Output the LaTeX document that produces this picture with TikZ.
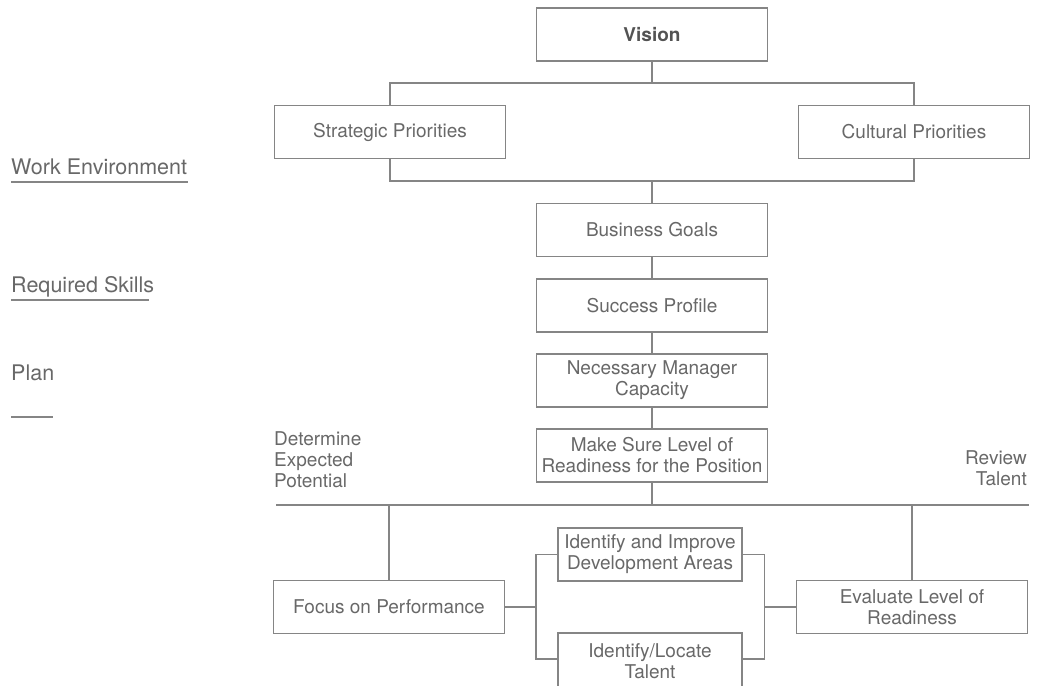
\documentclass[tikz,border=0pt]{standalone}
\usepackage{fontspec}
\setmainfont{TeX Gyre Heros}
\usetikzlibrary{calc}
\definecolor{linec}{HTML}{858585}
\definecolor{txtc}{HTML}{686868}
\begin{document}
\begin{tikzpicture}[x=1pt,y=-1pt,
  box/.style={draw=linec, line width=1.3pt, text=txtc, minimum width=231pt,
    minimum height=53pt, align=center, inner sep=0pt,
    font=\fontsize{19}{21}\selectfont},
  narrowbox/.style={box, minimum width=184pt},
  wire/.style={draw=linec, line width=1.3pt},
  sidelbl/.style={text=txtc, inner sep=0pt, font=\fontsize{21.5}{24}\selectfont},
  steplbl/.style={text=txtc, inner sep=0pt, font=\fontsize{19}{21}\selectfont},
  rule/.style={draw=linec, line width=1.3pt}]
\useasboundingbox (0,0) rectangle (1038,685);
\clip (0,0) rectangle (1038,685);

% main column
\node[box, text=txtc!80!black, font=\fontsize{19}{21}\selectfont\bfseries] (vision) at (652,34.5) {Vision};
\node[box] (strat) at (390,132) {Strategic Priorities};
\node[box] (cult) at (914,132) {Cultural Priorities};
\node[box] (goals) at (652,230) {Business Goals};
\node[box] (profile) at (652,305.5) {Success Profile};
\node[box] (capacity) at (652,380.5) {Necessary Manager\\Capacity};
\node[box] (ready) at (652,455.5) {Make Sure Level of\\Readiness for the Position};

% lower row (the last box runs past the bottom edge)
\node[box] (focus) at (389,607) {Focus on Performance};
\node[narrowbox] (improve) at (650,554.5) {Identify and Improve\\Development Areas};
\node[narrowbox, minimum height=56pt] (locate) at (650,661) {Identify/Locate\\Talent};
\node[box] (evaluate) at (912,607) {Evaluate Level of\\Readiness};

% junction points
\coordinate (vsplit) at (652,83);
\coordinate (pjoin) at (652,181);
\coordinate (railL) at (276,505);
\coordinate (railR) at (1029,505);
\coordinate (rjoin) at (652,505);
\coordinate (lb) at (536,607);
\coordinate (rb) at (764.5,607);
\coordinate (lbot) at (536,659);
\coordinate (rbot) at (764.5,659);

% connectors
\draw[wire] (vision) -- (vsplit);
\draw[wire] (strat.north) |- (vsplit) -| (cult.north);
\draw[wire] (strat.south) |- (pjoin) -| (cult.south);
\draw[wire] (pjoin) -- (goals);
\draw[wire] (goals) -- (profile);
\draw[wire] (profile) -- (capacity);
\draw[wire] (capacity) -- (ready);
\draw[wire] (railL) -- (railR);
\draw[wire] (ready) -- (rjoin);
\draw[wire] (focus.north) -- (focus.north |- railL);
\draw[wire] (evaluate.north) -- (evaluate.north |- railL);
\draw[wire] (focus.east) -- (lb);
\draw[wire] (improve.west) -| (lb) -- (lbot) -- (locate.west |- lbot);
\draw[wire] (evaluate.west) -- (rb);
\draw[wire] (improve.east) -| (rb) -- (rbot) -- (locate.east |- rbot);

% side labels with underlines
\node[sidelbl, anchor=base west] (workenv) at (11,174) {Work Environment};
\draw[rule] (11,182) -- (188,182);
\node[sidelbl, anchor=base west] (skills) at (11,292) {Required Skills};
\draw[rule] (11,300) -- (149,300);
\node[sidelbl, anchor=base west] (plan) at (11,380) {Plan};
\draw[rule] (11,417) -- (53,417);

% stage labels
\node[steplbl, anchor=north west, align=left] (determine) at (274,431) {Determine\\Expected\\Potential};
\node[steplbl, anchor=north east, align=right] (review) at (1027,450) {Review\\Talent};
\end{tikzpicture}
\end{document}
